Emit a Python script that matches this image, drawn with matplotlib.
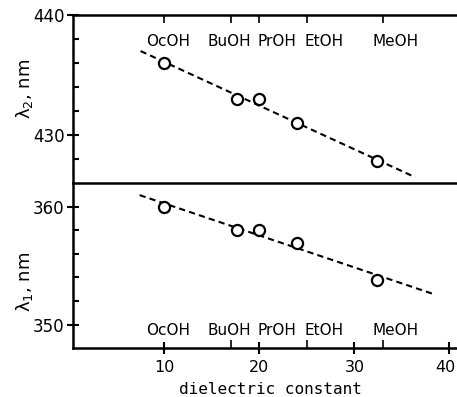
import matplotlib.pyplot as plt
import matplotlib.transforms as mtransforms
import numpy as np

# dielectric constants of the solvents
eps = [10.0, 17.6, 20.0, 24.0, 32.4]
lam2 = [436.0, 433.0, 433.0, 431.0, 427.8]
lam1 = [360.0, 358.0, 358.0, 356.9, 353.8]

solvents = ['OcOH', 'BuOH', 'PrOH', 'EtOH', 'MeOH']
solvent_ticks = [10, 17, 20, 25, 33]
solvent_label_x = [10.4, 16.8, 21.9, 26.8, 34.3]

plt.rcParams['font.family'] = 'DejaVu Sans'
plt.rcParams['font.size'] = 12

fig = plt.figure(figsize=(4.57, 3.97), dpi=100)
ax2 = fig.add_axes([0.16, 0.539, 0.84, 0.423])
ax1 = fig.add_axes([0.16, 0.123, 0.84, 0.416])


def style(ax, ylim, major, minor):
    ax.set_xlim(0.4, 40.8)
    ax.set_ylim(*ylim)
    ax.spines['right'].set_visible(False)
    for s in ax.spines.values():
        s.set_linewidth(1.8)
    ax.set_yticks(major)
    ax.set_yticks(minor, minor=True)
    ax.tick_params(axis='y', which='major', direction='inout', length=8, width=1.5, pad=2)
    ax.tick_params(axis='y', which='minor', direction='in', length=4, width=1.5)


def fit_line(ax, x, y, x0, x1):
    k, b = np.polyfit(x, y, 1)
    xx = np.array([x0, x1])
    ax.plot(xx, k * xx + b, color='k', lw=1.5, ls=(0, (3, 2)))
    ax.plot(x, y, 'o', mfc='white', mec='k', mew=1.6, ms=8)


# upper panel, lambda 2
style(ax2, (426, 440), [430, 440], np.arange(428, 440, 2))
ax2.spines['bottom'].set_visible(False)
ax2.tick_params(axis='x', which='both', bottom=False, labelbottom=False,
                top=True, direction='in', length=6, width=1.2)
ax2.set_xticks(solvent_ticks)
ax2.set_xticklabels([])
fit_line(ax2, eps, lam2, 7.5, 36.4)
for name, xl in zip(solvents, solvent_label_x):
    ax2.text(xl, 437.8, name, ha='center', va='center', fontsize=11)
ax2.set_ylabel('λ$_2$, nm', fontsize=13)
ax2.yaxis.set_label_coords(-0.1, 0.56)

# lower panel, lambda 1
style(ax1, (348, 362), [350, 360], np.arange(352, 360, 2))
ax1.set_xticks([10, 20, 30, 40])
ax1.tick_params(axis='x', which='major', direction='inout', length=9, width=1.5,
                pad=4, labelsize=11.5)
ax1.set_xticks(solvent_ticks, minor=True)
ax1.tick_params(axis='x', which='minor', direction='in', length=6, width=1.2)
fit_line(ax1, eps, lam1, 7.4, 38.3)
for name, xl in zip(solvents, solvent_label_x):
    ax1.text(xl, 349.5, name, ha='center', va='center', fontsize=11)
ax1.set_ylabel('λ$_1$, nm', fontsize=13)
ax1.yaxis.set_label_coords(-0.1, 0.4)
ax1.set_xlabel('dielectric constant', family='DejaVu Sans Mono', fontsize=11.5)
ax1.xaxis.set_label_coords(0.515, -0.205)

# nudge the "40" so it stays inside the figure
last = ax1.xaxis.get_major_ticks()[-1].label1
last.set_transform(last.get_transform() +
                   mtransforms.ScaledTranslation(-3 / 72, 0, fig.dpi_scale_trans))

fig.savefig('out.png', dpi=100)
